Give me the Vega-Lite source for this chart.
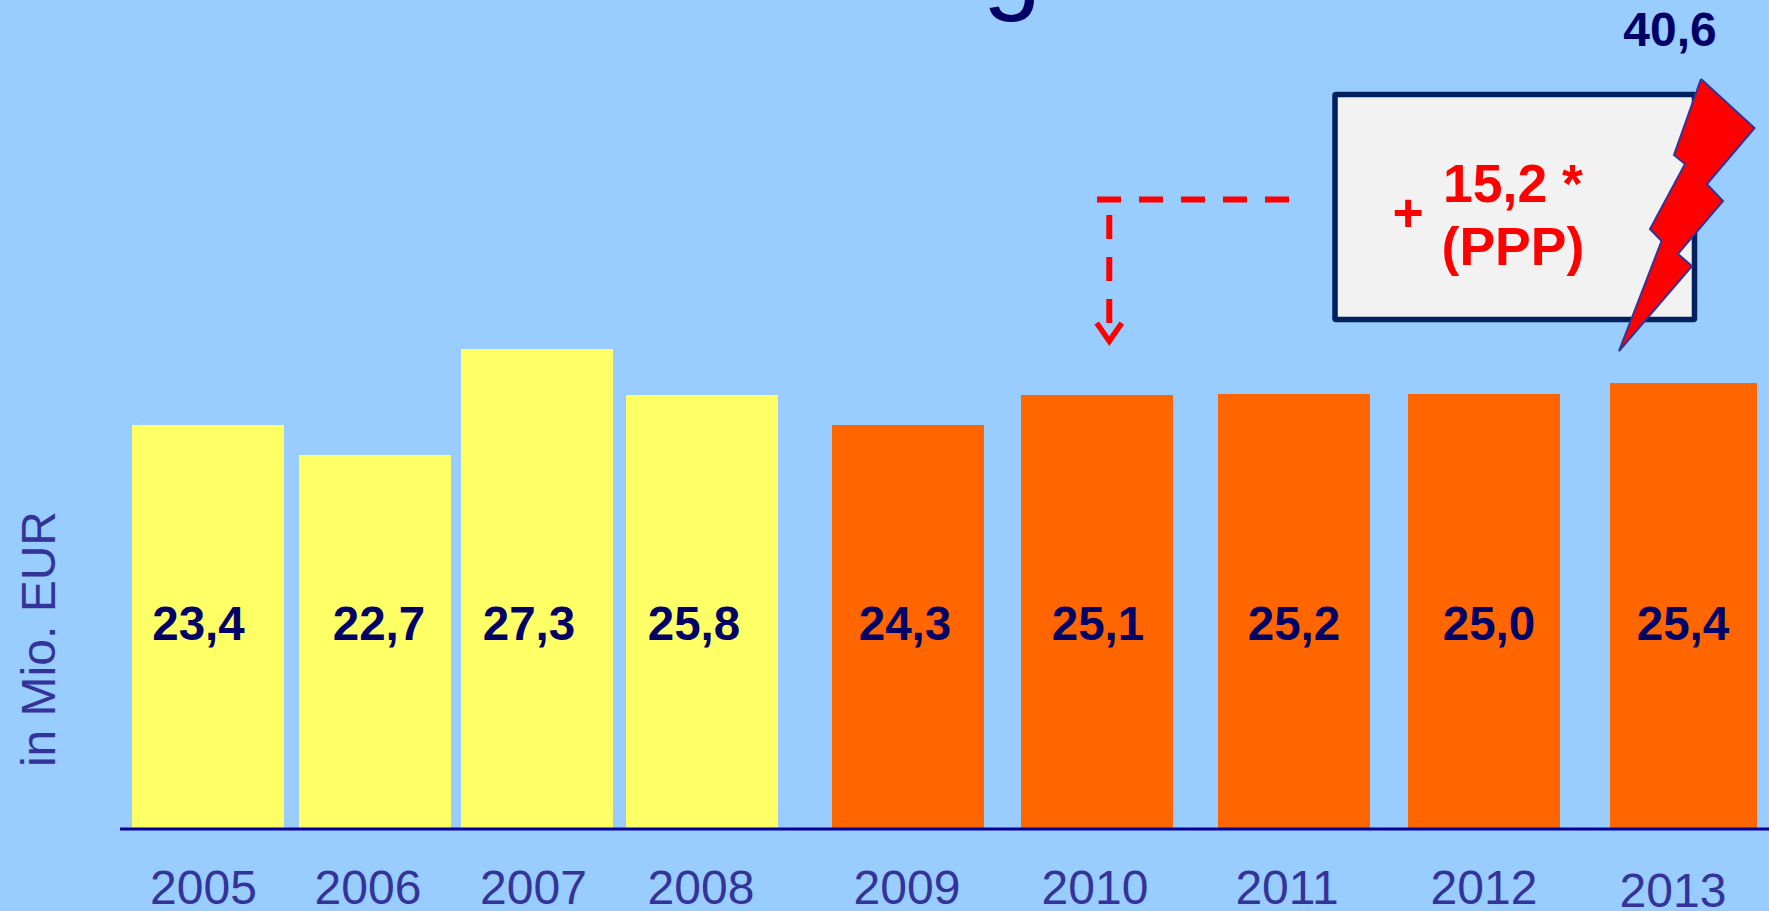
{
"$schema":"https://vega.github.io/schema/vega-lite/v6.json",
"width":1769,"height":911,"autosize":{"type":"none"},"padding":0,"background":"#99CCFF",
"config":{"view":{"stroke":null},"text":{"font":"Liberation Sans"}},
"datasets":{"bars":[
{"year":2005,"period":"2005-2008","height":23.35,"label":"23,4"},
{"year":2006,"period":"2005-2008","height":21.62,"label":"22,7"},
{"year":2007,"period":"2005-2008","height":27.75,"label":"27,3"},
{"year":2008,"period":"2005-2008","height":25.09,"label":"25,8"},
{"year":2009,"period":"2009-2013","height":23.35,"label":"24,3"},
{"year":2010,"period":"2009-2013","height":25.09,"label":"25,1"},
{"year":2011,"period":"2009-2013","height":25.14,"label":"25,2"},
{"year":2012,"period":"2009-2013","height":25.14,"label":"25,0"},
{"year":2013,"period":"2009-2013","height":25.78,"label":"25,4"}
]},
"resolve":{"scale":{"x":"independent"}},
"layer":[
{"data":{"name":"bars"},
 "mark":{"type":"bar","orient":"vertical"},
 "encoding":{
  "x":{"field":"year","type":"quantitative","axis":null,"scale":{"domain":[2005,2006,2007,2008,2009,2010,2011,2012,2013],"range":[208,375,537,702,908,1097,1294,1484,1683.5],"nice":false,"zero":false,"padding":0}},
  "y":{"field":"height","type":"quantitative","stack":null,"axis":null,"scale":{"domain":[-4.74,47.92],"nice":false,"zero":false}},
  "y2":{"datum":0},
  "size":{"condition":{"test":"datum.year===2013","value":147},"value":152},
  "color":{"field":"period","type":"nominal","legend":null,"scale":{"domain":["2005-2008","2009-2013"],"range":["#FFFF66","#FF6600"]}}
 }},
{"data":{"name":"bars"},
 "mark":{"type":"text","fontSize":47.5,"fontWeight":"bold","color":"#000066","align":"center","baseline":"alphabetic"},
 "encoding":{
  "x":{"field":"year","type":"quantitative","axis":null,"scale":{"domain":[2005,2006,2007,2008,2009,2010,2011,2012,2013],"range":[198.5,379,529,694,905,1098,1294,1489,1683],"nice":false,"zero":false}},
  "y":{"datum":10.93,"type":"quantitative","axis":null},
  "text":{"field":"label"}
 }},
{"data":{"name":"bars"},
 "transform":[{"filter":"datum.year<2013"}],
 "mark":{"type":"text","fontSize":48,"color":"#333399","align":"center","baseline":"alphabetic"},
 "encoding":{
  "x":{"field":"year","type":"quantitative","axis":null,"scale":{"domain":[2005,2006,2007,2008,2009,2010,2011,2012],"range":[203.5,368,533.5,701,907,1095,1287,1484],"nice":false,"zero":false}},
  "y":{"datum":-4.33,"type":"quantitative","axis":null},
  "text":{"field":"year","type":"nominal"}
 }},
{"data":{"name":"bars"},
 "transform":[{"filter":"datum.year===2013"}],
 "mark":{"type":"text","fontSize":48,"color":"#333399","align":"center","baseline":"alphabetic"},
 "encoding":{
  "x":{"field":"year","type":"quantitative","axis":null,"scale":{"domain":[2012,2013],"range":[1483,1673],"nice":false,"zero":false}},
  "y":{"datum":-4.51,"type":"quantitative","axis":null},
  "text":{"field":"year","type":"nominal"}
 }},
{"data":{"values":[{"from":2004.473,"to":2013.4286,"value":0}]},
 "mark":{"type":"rule","color":"#000099","strokeWidth":3.2},
 "encoding":{
  "x":{"field":"from","type":"quantitative","axis":null,"scale":{"domain":[2005,2006,2007,2008,2009,2010,2011,2012,2013],"range":[208,375,537,702,908,1097,1294,1484,1683.5],"nice":false,"zero":false}},
  "x2":{"field":"to"},
  "y":{"field":"value","type":"quantitative","axis":null}
 }},
{"data":{"values":[{"x":2011.2158,"x2":2013.0551,"y":42.46,"y2":29.45}]},
 "mark":{"type":"rect","fill":"#F2F2F2","stroke":"#002060","strokeWidth":5.5,"cornerRadius":1},
 "encoding":{
  "x":{"field":"x","type":"quantitative","axis":null,"scale":{"domain":[2005,2006,2007,2008,2009,2010,2011,2012,2013],"range":[208,375,537,702,908,1097,1294,1484,1683.5],"nice":false,"zero":false}},
  "x2":{"field":"x2"},
  "y":{"field":"y","type":"quantitative","axis":null},
  "y2":{"field":"y2"}
 }},
{"data":{"values":[
 {"x":2010,"y":36.39,"part":"horizontal","order":1},
 {"x":2010.9797,"y":36.39,"part":"horizontal","order":2},
 {"x":2010.0624,"y":35.49,"part":"vertical","order":1},
 {"x":2010.0624,"y":29.25,"part":"vertical","order":2}
 ]},
 "mark":{"type":"line","color":"#FF0000","strokeWidth":6,"strokeDash":[24,18]},
 "encoding":{
  "x":{"field":"x","type":"quantitative","axis":null,"scale":{"domain":[2005,2006,2007,2008,2009,2010,2011,2012,2013],"range":[208,375,537,702,908,1097,1294,1484,1683.5],"nice":false,"zero":false}},
  "y":{"field":"y","type":"quantitative","axis":null},
  "detail":{"field":"part"},
  "order":{"field":"order"}
 }},
{"data":{"values":[
 {"x":2009.9985,"y":29.25,"order":1},
 {"x":2010.0624,"y":28.2,"order":2},
 {"x":2010.1259,"y":29.25,"order":3}
 ]},
 "mark":{"type":"line","color":"#FF0000","strokeWidth":5.5},
 "encoding":{
  "x":{"field":"x","type":"quantitative","axis":null,"scale":{"domain":[2005,2006,2007,2008,2009,2010,2011,2012,2013],"range":[208,375,537,702,908,1097,1294,1484,1683.5],"nice":false,"zero":false}},
  "y":{"field":"y","type":"quantitative","axis":null},
  "order":{"field":"order"}
 }},
{"data":{"values":[
 {"x":2011.6,"y":34.57,"t":"+"},
 {"x":2012.145,"y":36.24,"t":"15,2 *"},
 {"x":2012.145,"y":32.6,"t":"(PPP)"}
 ]},
 "mark":{"type":"text","fontSize":53.5,"fontWeight":"bold","color":"#FF0000","align":"center","baseline":"alphabetic"},
 "encoding":{
  "x":{"field":"x","type":"quantitative","axis":null,"scale":{"domain":[2005,2006,2007,2008,2009,2010,2011,2012,2013],"range":[208,375,537,702,908,1097,1294,1484,1683.5],"nice":false,"zero":false}},
  "y":{"field":"y","type":"quantitative","axis":null},
  "text":{"field":"t"}
 }},
{"data":{"values":[
 {"x":2013.0877,"y":43.35,"order":1},
 {"x":2013.3559,"y":40.52,"order":2},
 {"x":2013.1178,"y":37.28,"order":3},
 {"x":2013.198,"y":36.30,"order":4},
 {"x":2012.9724,"y":33.24,"order":5},
 {"x":2013.0426,"y":32.54,"order":6},
 {"x":2012.6767,"y":27.63,"order":7},
 {"x":2012.8902,"y":33.99,"order":8},
 {"x":2012.8321,"y":34.68,"order":9},
 {"x":2013.0075,"y":38.44,"order":10},
 {"x":2012.9524,"y":38.96,"order":11},
 {"x":2013.0877,"y":43.35,"order":12}
 ]},
 "mark":{"type":"line","stroke":"#333399","strokeWidth":2,"fill":"#FF0000","filled":true},
 "encoding":{
  "x":{"field":"x","type":"quantitative","axis":null,"scale":{"domain":[2005,2006,2007,2008,2009,2010,2011,2012,2013],"range":[208,375,537,702,908,1097,1294,1484,1683.5],"nice":false,"zero":false}},
  "y":{"field":"y","type":"quantitative","axis":null},
  "order":{"field":"order"}
 }},
{"data":{"values":[{"x":2012.9323,"y":45.26,"t":"40,6"}]},
 "mark":{"type":"text","fontSize":48,"fontWeight":"bold","color":"#000066","align":"center","baseline":"alphabetic"},
 "encoding":{
  "x":{"field":"x","type":"quantitative","axis":null,"scale":{"domain":[2005,2006,2007,2008,2009,2010,2011,2012,2013],"range":[208,375,537,702,908,1097,1294,1484,1683.5],"nice":false,"zero":false}},
  "y":{"field":"y","type":"quantitative","axis":null},
  "text":{"field":"t"}
 }},
{"data":{"values":[{"x":2004.084,"y":10.98,"t":"in Mio. EUR"}]},
 "mark":{"type":"text","fontSize":48,"angle":270,"color":"#333399","align":"center","baseline":"alphabetic"},
 "encoding":{
  "x":{"field":"x","type":"quantitative","axis":null,"scale":{"domain":[2005,2006,2007,2008,2009,2010,2011,2012,2013],"range":[208,375,537,702,908,1097,1294,1484,1683.5],"nice":false,"zero":false}},
  "y":{"field":"y","type":"quantitative","axis":null},
  "text":{"field":"t"}
 }},
{"data":{"values":[{"x":2009.5503,"y":47.9,"t":"g"}]},
 "mark":{"type":"text","fontSize":105,"color":"#000066","align":"center","baseline":"alphabetic"},
 "encoding":{
  "x":{"field":"x","type":"quantitative","axis":null,"scale":{"domain":[2005,2006,2007,2008,2009,2010,2011,2012,2013],"range":[208,375,537,702,908,1097,1294,1484,1683.5],"nice":false,"zero":false}},
  "y":{"field":"y","type":"quantitative","axis":null},
  "text":{"field":"t"}
 }}
]
}
